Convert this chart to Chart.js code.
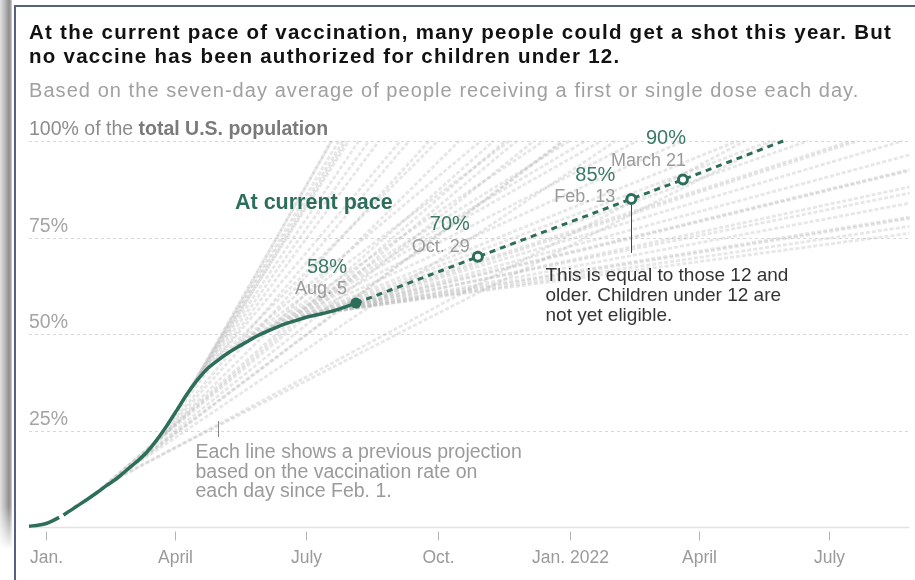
<!DOCTYPE html>
<html>
<head>
<meta charset="utf-8">
<script src="https://cdn.jsdelivr.net/npm/chart.js@4.4.1/dist/chart.umd.min.js"></script>
<style>
  html, body { margin:0; padding:0; width:915px; height:580px; overflow:hidden; background:#fff; }
  body { position:relative; font-family:"Liberation Sans", Arial, sans-serif; }
  #shadow { position:absolute; left:0; top:0; width:12px; height:550px;
    background:linear-gradient(to right,#e2e2e2 0px,#b8b8b8 5px,#8e8e8e 9px,#a8a8a8 11px,#e0e0e0 12px);
    -webkit-mask-image:linear-gradient(to bottom,#000 0%,#000 92%,transparent 100%);
    mask-image:linear-gradient(to bottom,#000 0%,#000 92%,transparent 100%); }
  #frameL { position:absolute; left:14px; top:5px; width:2px; height:575px; background:#55627d; }
  #frameT { position:absolute; left:14px; top:5px; width:901px; height:2px; background:#55627d; }
  .title { position:absolute; left:29px; font-weight:bold; font-size:20.5px; line-height:20.5px;
    letter-spacing:1.25px; color:#121212; white-space:nowrap; }
  #sub { position:absolute; left:29px; top:80.4px; font-size:20px; line-height:20px; letter-spacing:1.06px;
    color:#a0a0a0; white-space:nowrap; }
  #chart { position:absolute; left:0; top:0; }
</style>
</head>
<body>
<div id="shadow"></div>
<div id="frameL"></div>
<div id="frameT"></div>
<canvas id="chart" width="915" height="580"></canvas>
<div class="title" style="top:22px">At the current pace of vaccination, many people could get a shot this year. But</div>
<div class="title" style="top:45.5px">no vaccine has been authorized for children under 12.</div>
<div id="sub">Based on the seven-day average of people receiving a first or single dose each day.</div>
<script>
// ---------- DATA ----------
// Share of the total U.S. population with at least one dose (actual)
const actualDates = ['2020-12-20','2020-12-27','2021-01-01','2021-01-06','2021-01-10','2021-01-11','2021-01-13',
  '2021-01-18','2021-01-22','2021-01-29','2021-02-05','2021-02-12','2021-02-19','2021-02-26','2021-03-05',
  '2021-03-12','2021-03-19','2021-03-26','2021-04-02','2021-04-09','2021-04-16','2021-04-23','2021-04-30',
  '2021-05-07','2021-05-14','2021-05-21','2021-05-28','2021-06-04','2021-06-11','2021-06-18','2021-06-25',
  '2021-07-02','2021-07-09','2021-07-16','2021-07-23','2021-07-30','2021-08-05'];
const actualPct = [0.2,0.5,0.9,1.7,2.5,null,3.1,
  4.3,5.3,7.0,8.8,10.7,12.5,14.7,16.9,
  19.3,22.5,26.2,30.2,34.3,37.9,40.9,43.0,
  44.9,46.5,48.0,49.5,50.7,51.8,52.8,53.6,
  54.4,55.0,55.6,56.3,57.2,58.0];

// Projection at the current pace
const paceDates = ['2021-08-05','2021-10-29','2022-02-13','2022-03-21','2022-05-30'];
const pacePct = [58,70,85,90,100];
const paceLabelPct = ['58%','70%','85%','90%'];
const paceLabelDate = ['Aug. 5','Oct. 29','Feb. 13','March 21'];

// Previous projections (one every few days since Feb. 1)
const projStartDates = ['2021-02-01','2021-02-05','2021-02-09','2021-02-13','2021-02-17','2021-02-21','2021-02-25',
  '2021-03-01','2021-03-05','2021-03-09','2021-03-13','2021-03-17','2021-03-21','2021-03-25','2021-03-29',
  '2021-04-02','2021-04-06','2021-04-10','2021-04-14','2021-04-18','2021-04-22','2021-04-26','2021-04-30',
  '2021-05-04','2021-05-08','2021-05-12','2021-05-16','2021-05-20','2021-05-24','2021-05-28','2021-06-01',
  '2021-06-05','2021-06-09','2021-06-13','2021-06-17','2021-06-21','2021-06-25','2021-06-29','2021-07-03',
  '2021-07-07','2021-07-11','2021-07-15','2021-07-19','2021-07-23','2021-07-27','2021-07-31','2021-08-04'];
const projStartPct = [7.8,8.8,9.9,11.0,12.0,13.1,14.4,
  15.6,16.9,18.3,19.8,21.6,23.6,25.7,27.9,
  30.2,32.5,34.8,36.9,38.8,40.5,41.8,43.0,
  44.1,45.1,46.0,46.9,47.8,48.6,49.5,50.2,
  50.9,51.5,52.1,52.7,53.1,53.6,54.1,54.5,
  54.8,55.2,55.5,55.9,56.3,56.8,57.3,57.9];
const projEndDates = ['2021-11-25','2021-11-17','2021-11-09','2021-12-28','2022-05-03','2022-05-24','2022-02-02',
  '2021-12-27','2021-12-07','2021-10-16','2021-09-25','2021-09-11','2021-08-21','2021-08-07','2021-07-31',
  '2021-07-27','2021-07-24','2021-07-19','2021-07-19','2021-07-29','2021-08-14','2021-09-05','2021-10-01',
  '2021-10-31','2021-11-20','2021-12-14','2022-01-01','2022-01-12','2022-01-23','2022-02-17','2022-03-21',
  '2022-04-28','2022-05-21','2022-06-16','2022-07-16','2022-08-21','2022-08-26','2022-08-26','2022-08-26',
  '2022-08-26','2022-08-26','2022-08-26','2022-08-26','2022-08-26','2022-08-26','2022-08-26','2022-07-21'];
const projEndPct = [100,100,100,100,100,100,100,
  100,100,100,100,100,100,100,100,
  100,100,100,100,100,100,100,100,
  100,100,100,100,100,100,100,100,
  100,100,100,100,100,96.4,92.3,88.1,
  83.9,79.9,77.9,76.1,80.3,86.5,92.6,100];

// Axes
const xMinDate = '2020-12-20';
const xMaxDate = '2022-08-26';
const xTickDates = ['2021-01-01','2021-04-01','2021-07-01','2021-10-01','2022-01-01','2022-04-01','2022-07-01'];
const xTickLabels = ['Jan.','April','July','Oct.','Jan. 2022','April','July'];
const yTickValues = [25,50,75,100];
const yTickLabels = ['25%','50%','75%','100%'];

// ---------- CHART ----------
const toDay = s => (Date.parse(s + 'T00:00:00Z') - Date.parse('2021-01-01T00:00:00Z')) / 86400000;
const GREEN = '#2d6e5b';
const FONT = '"Liberation Sans", Arial, sans-serif';

const datasets = [];
datasets.push({
  label: 'At current pace',
  data: paceDates.map((d, i) => ({ x: toDay(d), y: pacePct[i] })),
  borderColor: GREEN, borderWidth: 3, borderDash: [6, 5],
  pointRadius: [5.5, 4.5, 4.5, 4.5, 0],
  pointBackgroundColor: [GREEN, '#fff', '#fff', '#fff', GREEN],
  pointBorderColor: GREEN, pointBorderWidth: [0, 3, 3, 3, 0],
  tension: 0, clip: false
});
datasets.push({
  label: 'Actual',
  data: actualDates.map((d, i) => ({ x: toDay(d), y: actualPct[i] })),
  borderColor: GREEN, borderWidth: 3.5, pointRadius: 0,
  cubicInterpolationMode: 'monotone', spanGaps: false,
  borderCapStyle: 'butt', borderJoinStyle: 'round', clip: false
});
projStartDates.forEach((d, i) => {
  datasets.push({
    label: 'proj' + i,
    data: [{ x: toDay(d), y: projStartPct[i] }, { x: toDay(projEndDates[i]), y: projEndPct[i] }],
    borderColor: 'rgba(180,180,180,0.32)', borderWidth: 2.8, borderDash: [4, 2], pointRadius: 0, clip: false
  });
});

const decor = {
  id: 'decor',
  beforeDatasetsDraw(chart) {
    const { ctx, chartArea: a, scales: { x, y } } = chart;
    ctx.save();
    // dashed gridlines
    ctx.strokeStyle = '#d8d8d8'; ctx.lineWidth = 1; ctx.setLineDash([3, 3]);
    yTickValues.forEach(v => {
      const py = Math.round(y.getPixelForValue(v)) + 0.5;
      ctx.beginPath(); ctx.moveTo(a.left, py); ctx.lineTo(a.right, py); ctx.stroke();
    });
    ctx.setLineDash([]);
    // baseline
    const py0 = Math.round(y.getPixelForValue(0)) + 0.5;
    ctx.strokeStyle = '#e3e3e3'; ctx.lineWidth = 1.5;
    ctx.beginPath(); ctx.moveTo(a.left, py0); ctx.lineTo(a.right, py0); ctx.stroke();
    // x ticks + labels
    ctx.lineWidth = 1; ctx.strokeStyle = '#b5b5b5';
    ctx.font = '17.5px ' + FONT; ctx.fillStyle = '#9a9a9a';
    ctx.textAlign = 'center'; ctx.textBaseline = 'alphabetic';
    xTickDates.forEach((d, i) => {
      const px = Math.round(x.getPixelForValue(toDay(d))) + 0.5;
      ctx.beginPath(); ctx.moveTo(px, py0 + 4); ctx.lineTo(px, py0 + 13); ctx.stroke();
      ctx.fillText(xTickLabels[i], px, py0 + 35);
    });
    // y labels
    ctx.textAlign = 'left';
    yTickValues.forEach((v, i) => {
      const py = y.getPixelForValue(v) - 6;
      if (v === 100) {
        ctx.font = '19.5px ' + FONT; ctx.fillStyle = '#8c8c8c';
        const t1 = yTickLabels[i] + ' of the ';
        ctx.fillText(t1, a.left, py);
        const w = ctx.measureText(t1).width;
        ctx.font = 'bold 19.5px ' + FONT; ctx.fillStyle = '#7a7a7a';
        ctx.fillText('total U.S. population', a.left + w, py);
      } else {
        ctx.font = '19.5px ' + FONT; ctx.fillStyle = '#a5a5a5';
        ctx.fillText(yTickLabels[i], a.left, py);
      }
    });
    ctx.restore();
  },
  afterDatasetsDraw(chart) {
    const { ctx, scales: { x, y } } = chart;
    ctx.save();
    ctx.textBaseline = 'alphabetic';
    // "At current pace"
    ctx.font = 'bold 21.5px ' + FONT; ctx.fillStyle = GREEN; ctx.textAlign = 'left';
    ctx.fillText('At current pace', 235, 209);
    // milestone labels (offsets relative to each point)
    const offs = [[-9, -30, -9], [-8, -27, -5], [-16, -17.5, 3], [3, -36, -14]];
    paceLabelPct.forEach((t, i) => {
      const px = x.getPixelForValue(toDay(paceDates[i]));
      const py = y.getPixelForValue(pacePct[i]);
      ctx.textAlign = 'right';
      ctx.font = '20px ' + FONT; ctx.fillStyle = '#3a7a66';
      ctx.fillText(t, px + offs[i][0], py + offs[i][1]);
      ctx.font = '18px ' + FONT; ctx.fillStyle = '#9a9a9a';
      ctx.fillText(paceLabelDate[i], px + offs[i][0], py + offs[i][2]);
    });
    // note for 85%
    const nx = Math.round(x.getPixelForValue(toDay(paceDates[2]))) + 0.5;
    const ny = y.getPixelForValue(pacePct[2]);
    ctx.strokeStyle = '#444'; ctx.lineWidth = 1;
    ctx.beginPath(); ctx.moveTo(nx, ny + 6); ctx.lineTo(nx, ny + 54); ctx.stroke();
    ctx.textAlign = 'left'; ctx.font = '19px ' + FONT; ctx.fillStyle = '#333';
    ['This is equal to those 12 and', 'older. Children under 12 are', 'not yet eligible.']
      .forEach((l, i) => ctx.fillText(l, 545.5, 280.5 + i * 20.2));
    // note for previous projections
    ctx.strokeStyle = '#888';
    ctx.beginPath(); ctx.moveTo(218.5, 421); ctx.lineTo(218.5, 437); ctx.stroke();
    ctx.font = '19.5px ' + FONT; ctx.fillStyle = '#9a9a9a';
    ['Each line shows a previous projection', 'based on the vaccination rate on', 'each day since Feb. 1.']
      .forEach((l, i) => ctx.fillText(l, 195.5, 458.3 + i * 19.2));
    ctx.restore();
  }
};

new Chart(document.getElementById('chart'), {
  type: 'line',
  data: { datasets },
  options: {
    responsive: false, animation: false, devicePixelRatio: 1,
    layout: { padding: { left: 29, right: 0, top: 141, bottom: 53 } },
    plugins: { legend: { display: false }, tooltip: { enabled: false } },
    scales: {
      x: { type: 'linear', min: toDay(xMinDate), max: toDay(xMaxDate), display: false },
      y: { type: 'linear', min: 0, max: 100, display: false }
    }
  },
  plugins: [decor]
});
</script>
</body>
</html>
